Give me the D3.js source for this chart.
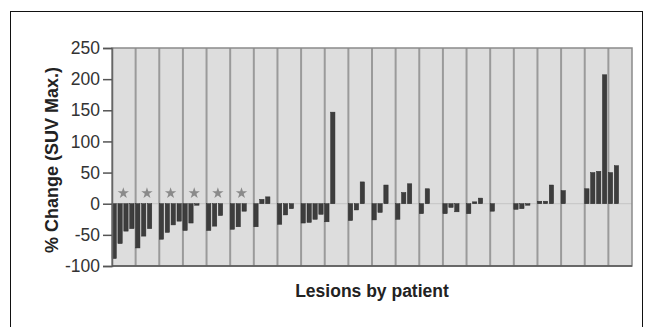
<!DOCTYPE html>
<html>
<head>
<meta charset="utf-8">
<script src="https://cdn.jsdelivr.net/npm/d3@7"></script>
<style>
  html, body { margin: 0; padding: 0; background: #fff; }
  svg { display: block; font-family: 'Liberation Sans', Arial, sans-serif; }
</style>
</head>
<body>
<svg id="chart" width="653" height="327"></svg>
<script>
'use strict';

// one entry per patient, lesion values in % change of SUV max
const patients = d3.range(1, 23).map((d) => `P${d}`);
const lesionValues = [
  [-88, -64, -44, -40],
  [-71, -52, -40],
  [-57, -46, -34, -28],
  [-43, -31, -2],
  [-43, -36, -19],
  [-41, -37, -12],
  [-37, 7, 11],
  [-33, -18, -8],
  [-31, -30, -25, -17],
  [-29, 147],
  [-27, -10, 35],
  [-26, -14, 30],
  [-25, 18, 32],
  [-16, 24],
  [-16, -6, -13],
  [-16, 3, 9],
  [-12],
  [-9, -8, -2],
  [4, 4, 30],
  [21],
  [24, 50, 52, 207],
  [50, 61],
];
const starredPatients = ['P1', 'P2', 'P3', 'P4', 'P5', 'P6'];
const starLevel = 17;
const yTicks = [-100, -50, 0, 50, 100, 150, 200, 250];

const svg = d3.select('#chart');
const margin = { top: 48, right: 21, bottom: 61, left: 112 };
const width = 653 - margin.left - margin.right;
const height = 327 - margin.top - margin.bottom;

// outer frame
svg
  .append('rect')
  .attr('x', 10.5)
  .attr('y', 11.5)
  .attr('width', 632)
  .attr('height', 330)
  .attr('fill', 'none')
  .attr('stroke', '#111')
  .attr('stroke-width', 1);

const g = svg
  .append('g')
  .attr('transform', `translate(${margin.left},${margin.top})`);

const x = d3.scaleBand().domain(patients).range([0, width]).padding(0);
const slot = d3
  .scaleBand()
  .domain(d3.range(4))
  .range([0, x.bandwidth()])
  .paddingInner(0.27)
  .paddingOuter(0.135)
  .align(0);
const y = d3.scaleLinear().domain([-100, 250]).range([height, 0]);

// plot background
g.append('rect')
  .attr('width', width)
  .attr('height', height)
  .attr('fill', '#dddddd');

// zero line
g.append('line')
  .attr('x1', 0)
  .attr('x2', width)
  .attr('y1', y(0))
  .attr('y2', y(0))
  .attr('stroke', '#c4c4c4')
  .attr('stroke-width', 1);

// patient dividers
g.append('g')
  .selectAll('line')
  .data(patients.slice(1))
  .enter()
  .append('line')
  .attr('x1', (d) => x(d))
  .attr('x2', (d) => x(d))
  .attr('y1', 0)
  .attr('y2', height)
  .attr('stroke', '#9a9a9a')
  .attr('stroke-width', 2);

// bars
const groups = g
  .append('g')
  .selectAll('g')
  .data(lesionValues)
  .enter()
  .append('g')
  .attr('transform', (d, i) => `translate(${x(patients[i])},0)`);

groups
  .selectAll('rect')
  .data((d) => d)
  .enter()
  .append('rect')
  .attr('x', (d, i) => slot(i))
  .attr('width', slot.bandwidth())
  .attr('y', (d) => y(Math.max(0, d)))
  .attr('height', (d) => Math.max(1.5, Math.abs(y(d) - y(0))))
  .attr('fill', '#3d3d3d')
  .attr('stroke', '#2a2a2a')
  .attr('stroke-width', 0.5);

// stars
g.append('g')
  .selectAll('path')
  .data(starredPatients)
  .enter()
  .append('path')
  .attr('d', d3.symbol().type(d3.symbolStar).size(40))
  .attr(
    'transform',
    (d) => `translate(${x(d) + x.bandwidth() / 2 - 0.5},${y(starLevel)})`
  )
  .attr('fill', '#8a8a8a');

// frame of plot
g.append('rect')
  .attr('width', width)
  .attr('height', height)
  .attr('fill', 'none')
  .attr('stroke', '#8a8a8a')
  .attr('stroke-width', 1.5);

// Y-Axis
g.append('g')
  .call(
    d3
      .axisLeft(y)
      .tickValues(yTicks)
      .tickFormat((d) => String(d))
      .tickSize(9)
      .tickPadding(3)
  )
  .call((a) => a.select('.domain').attr('stroke', '#666').attr('stroke-width', 1.5))
  .call((a) => a.selectAll('.tick line').attr('stroke', '#555').attr('stroke-width', 1.5))
  .call((a) =>
    a
      .selectAll('.tick text')
      .attr('fill', '#333')
      .style('font-size', '17.5px')
      .style('font-family', "'Liberation Sans', Arial, sans-serif")
  );

// bottom axis line
g.append('line')
  .attr('x1', 0)
  .attr('x2', width)
  .attr('y1', height)
  .attr('y2', height)
  .attr('stroke', '#555')
  .attr('stroke-width', 1.5);

// axis titles
svg
  .append('text')
  .attr('transform', `translate(58,${margin.top + height / 2 + 3}) rotate(-90)`)
  .attr('text-anchor', 'middle')
  .attr('fill', '#222')
  .style('font-size', '18px')
  .style('font-weight', 'bold')
  .text('% Change (SUV Max.)');

svg
  .append('text')
  .attr('x', margin.left + width / 2)
  .attr('y', 297)
  .attr('text-anchor', 'middle')
  .attr('fill', '#222')
  .style('font-size', '17.5px')
  .style('font-weight', 'bold')
  .text('Lesions by patient');
</script>
</body>
</html>
